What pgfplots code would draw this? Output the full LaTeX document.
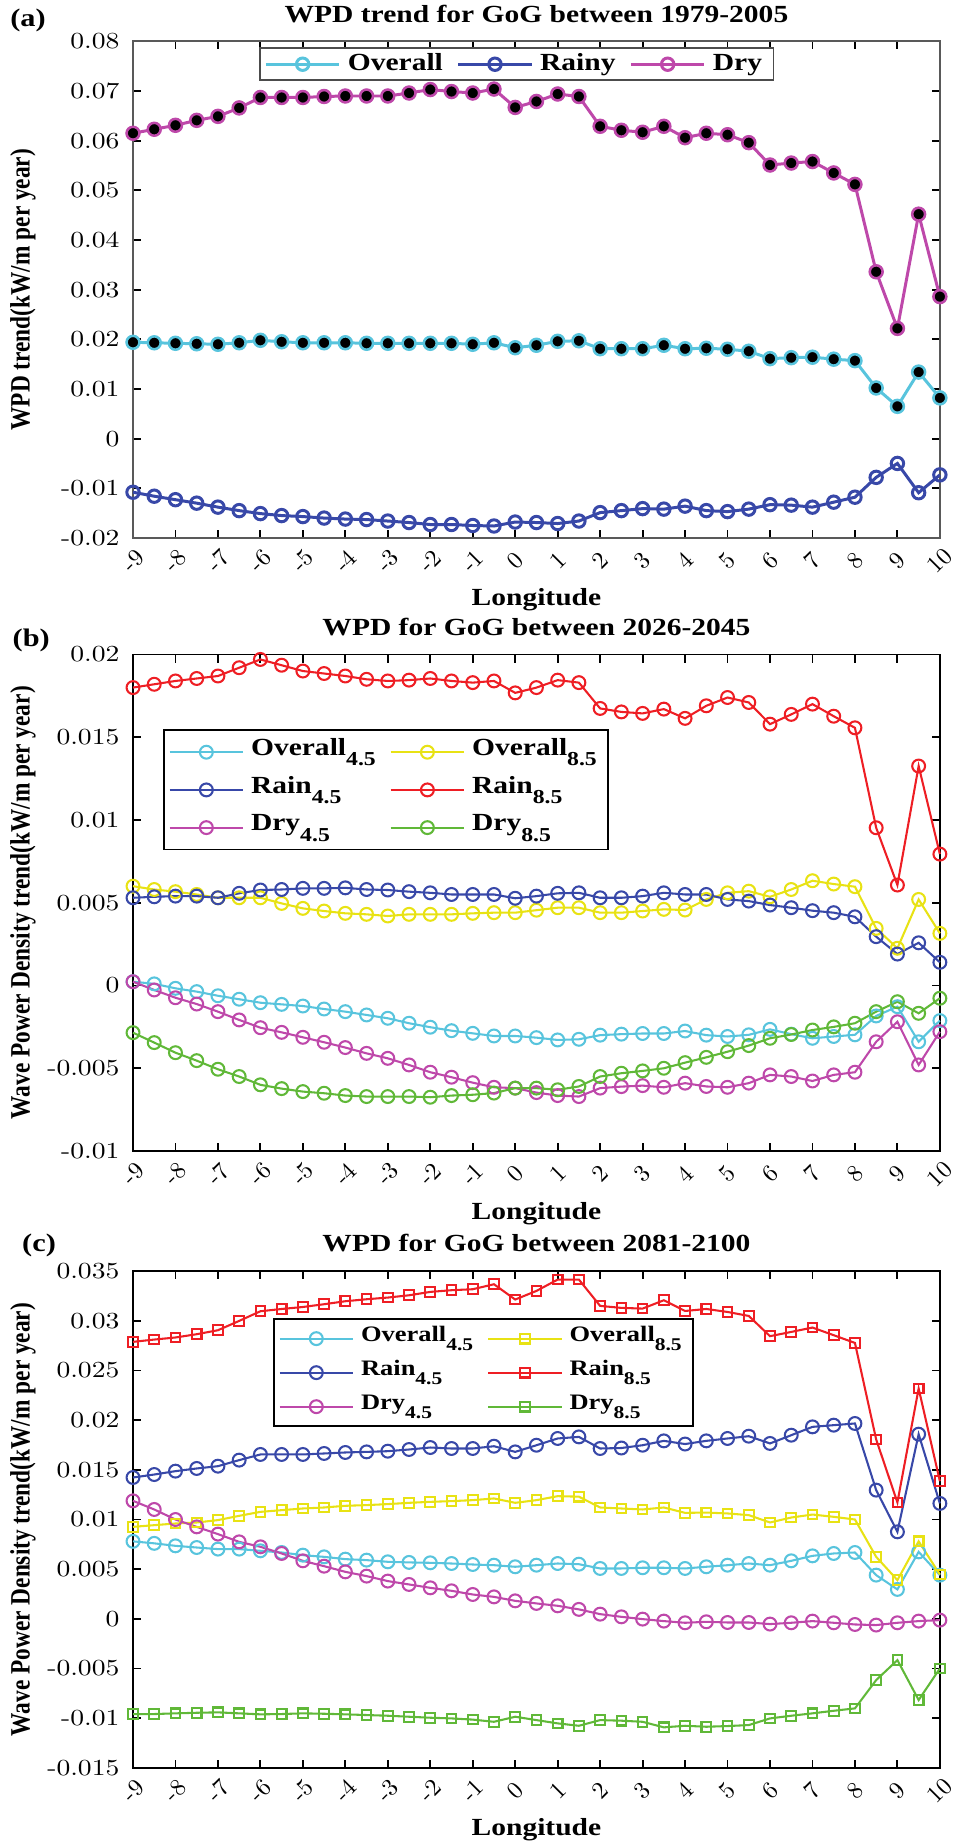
\documentclass[border=0pt]{standalone}
\usepackage{fontspec}
\setmainfont{Liberation Serif}[FakeStretch=1.2]
\newfontfamily\ylabfont{Liberation Serif}
\newfontfamily\lmtick{lmroman10-regular.otf}[FakeStretch=1.2]
\newfontfamily\lmx{lmroman10-regular.otf}
\usepackage{graphicx}
\usepackage{pgfplots}
\usepackage{pgfplotstable}
\pgfplotsset{compat=1.18}

\definecolor{cOv}{RGB}{88,196,221}
\definecolor{cRa}{RGB}{56,72,168}
\definecolor{cDr}{RGB}{190,72,170}
\definecolor{cOv8}{RGB}{232,226,20}
\definecolor{cRa8}{RGB}{238,30,36}
\definecolor{cDr8}{RGB}{96,184,56}

\newcommand{\sub}[1]{\raisebox{-4.5pt}{\fontsize{8.6}{9}\selectfont #1}}
\newcommand{\subc}[1]{\raisebox{-4.2pt}{\fontsize{7.8}{8}\selectfont #1}}
\newcommand{\ylab}[1]{\scalebox{1}[1.2]{\fontsize{10.15}{12}\ylabfont\bfseries #1}}

\pgfplotstableread{
x ov ra dr
-9 0.0194 -0.0108 0.0615
-8.5 0.0193 -0.0116 0.0623
-8 0.0192 -0.0123 0.0631
-7.5 0.0191 -0.0130 0.0641
-7 0.0190 -0.0138 0.0649
-6.5 0.0193 -0.0145 0.0666
-6 0.0198 -0.0151 0.0687
-5.5 0.0195 -0.0155 0.0687
-5 0.0193 -0.0157 0.0687
-4.5 0.0193 -0.0160 0.0689
-4 0.0193 -0.0162 0.0690
-3.5 0.0192 -0.0163 0.0690
-3 0.0192 -0.0166 0.0690
-2.5 0.0192 -0.0169 0.0696
-2 0.0192 -0.0173 0.0703
-1.5 0.0192 -0.0173 0.0699
-1 0.0190 -0.0175 0.0696
-0.5 0.0193 -0.0176 0.0704
0 0.0183 -0.0168 0.0667
0.5 0.0188 -0.0169 0.0679
1 0.0196 -0.0171 0.0694
1.5 0.0197 -0.0166 0.0689
2 0.0181 -0.0149 0.0629
2.5 0.0181 -0.0145 0.0621
3 0.0181 -0.0141 0.0617
3.5 0.0188 -0.0142 0.0629
4 0.0181 -0.0136 0.0606
4.5 0.0182 -0.0145 0.0615
5 0.0180 -0.0147 0.0612
5.5 0.0176 -0.0142 0.0596
6 0.0161 -0.0133 0.0551
6.5 0.0163 -0.0134 0.0555
7 0.0164 -0.0138 0.0558
7.5 0.0160 -0.0128 0.0535
8 0.0157 -0.0118 0.0512
8.5 0.0102 -0.0078 0.0336
9 0.0065 -0.0050 0.0222
9.5 0.0134 -0.0109 0.0452
10 0.0082 -0.0073 0.0286
}\tabA

\pgfplotstableread{
x o4 o8 r4 r8 d4 d8
-9 0.00023 0.0060 0.0053 0.0180 0.00023 -0.00285
-8.5 0.0001 0.0058 0.00536 0.0182 -0.00027 -0.00345
-8 -0.00017 0.00567 0.0054 0.0184 -0.00074 -0.00406
-7.5 -0.00037 0.0055 0.0054 0.01855 -0.00112 -0.00454
-7 -0.00062 0.0053 0.0053 0.0187 -0.00158 -0.00506
-6.5 -0.00083 0.0053 0.00557 0.0192 -0.00208 -0.0055
-6 -0.00104 0.0053 0.00577 0.0197 -0.00255 -0.0060
-5.5 -0.00114 0.00496 0.0058 0.01935 -0.00283 -0.00623
-5 -0.00124 0.00466 0.00587 0.0190 -0.00313 -0.00641
-4.5 -0.00142 0.0045 0.00587 0.01885 -0.00343 -0.00651
-4 -0.00158 0.00436 0.0059 0.0187 -0.00375 -0.00665
-3.5 -0.00178 0.0043 0.0058 0.0185 -0.0041 -0.00671
-3 -0.00198 0.0042 0.00577 0.0184 -0.0044 -0.00671
-2.5 -0.00228 0.0043 0.00567 0.01845 -0.0048 -0.00671
-2 -0.00252 0.0043 0.0056 0.01855 -0.00524 -0.00675
-1.5 -0.00273 0.0043 0.0055 0.0184 -0.00554 -0.00665
-1 -0.00289 0.00436 0.0055 0.0183 -0.00587 -0.0066
-0.5 -0.00305 0.0044 0.0055 0.0184 -0.00615 -0.0065
0 -0.00305 0.0044 0.00527 0.01768 -0.0062 -0.0062
0.5 -0.00315 0.00455 0.0054 0.0180 -0.00647 -0.0062
1 -0.00329 0.0047 0.00557 0.01845 -0.00665 -0.0063
1.5 -0.00325 0.0047 0.0056 0.0183 -0.00671 -0.0061
2 -0.0030 0.0044 0.0053 0.01674 -0.0062 -0.0055
2.5 -0.00294 0.0044 0.0053 0.01653 -0.00611 -0.0053
3 -0.0029 0.0045 0.0054 0.01644 -0.00605 -0.00516
3.5 -0.0029 0.0046 0.0056 0.0167 -0.00615 -0.0050
4 -0.00275 0.00456 0.0055 0.01614 -0.0059 -0.00466
4.5 -0.0030 0.0052 0.0055 0.0169 -0.0061 -0.00434
5 -0.00308 0.0056 0.0052 0.0174 -0.00615 -0.0040
5.5 -0.00298 0.0057 0.0051 0.0171 -0.0059 -0.00363
6 -0.00265 0.00536 0.00486 0.01579 -0.0054 -0.00319
6.5 -0.00294 0.0058 0.0047 0.01638 -0.0055 -0.00296
7 -0.00319 0.00633 0.00452 0.0170 -0.00577 -0.00269
7.5 -0.00308 0.00613 0.0044 0.01627 -0.0054 -0.0025
8 -0.00298 0.00597 0.00415 0.01557 -0.00524 -0.00228
8.5 -0.00184 0.00345 0.00295 0.00953 -0.0034 -0.00158
9 -0.00128 0.00225 0.0019 0.00607 -0.00219 -0.00098
9.5 -0.0034 0.0052 0.00258 0.01326 -0.0048 -0.00168
10 -0.00212 0.00315 0.0014 0.00794 -0.00279 -0.00077
}\tabB

\pgfplotstableread{
x o4 o8 r4 r8 d4 d8
-9 0.0078 0.00926 0.01423 0.02789 0.01188 -0.00959
-8.5 0.0076 0.00943 0.01453 0.02812 0.01101 -0.00959
-8 0.00735 0.0096 0.01487 0.02833 0.0100 -0.00952
-7.5 0.00718 0.0097 0.01514 0.02866 0.00926 -0.00946
-7 0.00702 0.00994 0.01537 0.02906 0.00853 -0.00942
-6.5 0.00702 0.01037 0.01598 0.0300 0.00775 -0.00952
-6 0.00685 0.01077 0.01655 0.03097 0.00725 -0.00962
-5.5 0.00668 0.01094 0.01655 0.0312 0.00658 -0.00959
-5 0.00641 0.01111 0.01655 0.0314 0.00584 -0.00952
-4.5 0.00624 0.01121 0.01665 0.03168 0.0053 -0.00956
-4 0.00601 0.01138 0.01675 0.03198 0.00473 -0.00962
-3.5 0.00591 0.01145 0.01681 0.03218 0.0043 -0.00969
-3 0.00574 0.01155 0.01688 0.03235 0.0038 -0.00976
-2.5 0.00568 0.01168 0.01705 0.03258 0.00346 -0.00986
-2 0.00564 0.01178 0.01725 0.03292 0.00312 -0.00996
-1.5 0.00557 0.01185 0.01715 0.03309 0.00282 -0.01003
-1 0.00547 0.01195 0.01715 0.03319 0.00245 -0.01015
-0.5 0.0054 0.01212 0.01738 0.03369 0.00221 -0.01037
0 0.00524 0.01168 0.01681 0.03215 0.00181 -0.00986
0.5 0.0054 0.01195 0.01748 0.03302 0.00155 -0.0102
1 0.00557 0.01235 0.01816 0.03416 0.00131 -0.01053
1.5 0.0055 0.0123 0.01832 0.03416 0.00095 -0.01077
2 0.00507 0.01121 0.01715 0.03151 0.00047 -0.0102
2.5 0.00507 0.01111 0.0172 0.03131 0.0002 -0.01026
3 0.00514 0.01101 0.01748 0.03124 -0.00003 -0.01037
3.5 0.00514 0.01121 0.01792 0.03208 -0.00023 -0.01093
4 0.00507 0.01067 0.0176 0.0310 -0.0004 -0.01077
4.5 0.00524 0.0107 0.01792 0.0312 -0.0003 -0.01087
5 0.0054 0.01061 0.01816 0.0309 -0.00037 -0.0108
5.5 0.00557 0.01044 0.01839 0.0305 -0.00037 -0.0107
6 0.0054 0.0097 0.01766 0.02846 -0.00053 -0.01003
6.5 0.00584 0.0102 0.01849 0.02889 -0.0004 -0.00976
7 0.00634 0.0105 0.01933 0.02933 -0.00023 -0.00952
7.5 0.00658 0.01027 0.0195 0.02856 -0.0004 -0.00926
8 0.00668 0.0100 0.01967 0.02778 -0.00057 -0.00902
8.5 0.0044 0.00624 0.01296 0.01806 -0.00063 -0.00617
9 0.00296 0.0039 0.00876 0.01172 -0.0004 -0.00416
9.5 0.00674 0.0078 0.01859 0.02319 -0.00023 -0.00818
10 0.0044 0.00447 0.01162 0.01386 -0.00013 -0.0050
}\tabC

\pgfplotsset{
  panel/.style={
    scale only axis, width=351pt, height=216pt,
    anchor=south west, clip=false,
    xmin=-9, xmax=10, xtick={-9,-8,...,10},
    tick align=inside, major tick length=3.5pt,
    axis line style={line width=0.8pt},
    every tick/.style={line width=0.8pt},
    scaled y ticks=false,
    /pgf/number format/assume math mode=true,
    yticklabel style={font=\fontsize{10}{12}\lmtick, /pgf/number format/fixed, /pgf/number format/precision=3, xshift=-2.4pt},
    xticklabel style={font=\fontsize{10.5}{12}\lmx, inner sep=0pt, yshift=-10pt, rotate=45, anchor=center},
    title style={at={(0.5,1)}, anchor=base, yshift=2.4pt, font=\fontsize{10.7}{12}\selectfont\bfseries},
    xlabel style={at={(axis description cs:0.5,0)}, anchor=base, yshift=-29.6pt, font=\fontsize{10.7}{12}\selectfont\bfseries},
    ylabel style={at={(axis description cs:-0.1364,0.5)}, anchor=center},
    xlabel={Longitude},
    legend cell align=left,
    legend image code/.code={\draw[mark repeat=2,mark phase=2] plot coordinates {(0pt,0pt) (16pt,0pt) (32pt,0pt)};},
    legend style={draw=black, line width=0.8pt, fill=white, font=\fontsize{10.7}{12}\selectfont\bfseries, anchor=north west, /tikz/every even column/.append style={column sep=3pt}},
  },
  sA/.style={line width=1.3pt, mark=o, mark size=2.7pt},
  sC/.style={line width=0.9pt, mark=o, mark size=2.8pt},
  sS/.style={line width=0.9pt, mark=square, mark size=2.1pt},
}

\begin{document}
\begin{tikzpicture}
\useasboundingbox (0,0) rectangle (415.4pt,-801.3pt);

% ---------- (a)
\begin{axis}[panel, at={(57.86pt,-234.0pt)},
  axis line style={black!65},
  ymin=-0.02, ymax=0.08,
  ytick={-0.02,-0.01,0,0.01,0.02,0.03,0.04,0.05,0.06,0.07,0.08},
  title={WPD trend for GoG between 1979-2005},
  ylabel={\ylab{WPD trend(kW/m per year)}},
  legend columns=3,
  legend style={at={(0.156,0.988)}, draw=black!70, inner ysep=0.5pt, inner xsep=2pt,
    nodes={inner xsep=3pt, inner ysep=1.5pt, text height=7.5pt, text depth=2.4pt}},
]
\addplot[sA, color=cOv] table[x=x,y=ov]{\tabA};
\addlegendentry{Overall}
\addplot[sA, color=cRa] table[x=x,y=ra]{\tabA};
\addlegendentry{Rainy}
\addplot[sA, color=cDr] table[x=x,y=dr]{\tabA};
\addlegendentry{Dry}
\addplot[only marks, forget plot, mark=*, mark size=2.7pt, mark options={fill=black, draw=cOv, line width=0.9pt}] table[x=x,y=ov]{\tabA};
\addplot[only marks, forget plot, mark=*, mark size=2.7pt, mark options={fill=black, draw=cDr, line width=0.9pt}] table[x=x,y=dr]{\tabA};
\end{axis}

% ---------- (b)
\begin{axis}[panel, at={(57.86pt,-500.7pt)},
  ymin=-0.01, ymax=0.02,
  ytick={-0.01,-0.005,0,0.005,0.01,0.015,0.02},
  title={WPD for GoG between 2026-2045},
  ylabel={\ylab{Wave Power Density trend(kW/m per year)}},
  legend columns=2,
  legend style={at={(0.0372,0.849)}, inner ysep=1.3pt, inner xsep=2pt,
    nodes={inner xsep=3pt, inner ysep=2.05pt, text height=7.5pt, text depth=4.8pt}},
]
\addplot[sC, color=cOv] table[x=x,y=o4]{\tabB};
\addlegendentry{Overall\sub{4.5}}
\addplot[sC, color=cOv8] table[x=x,y=o8]{\tabB};
\addlegendentry{Overall\sub{8.5}}
\addplot[sC, color=cRa] table[x=x,y=r4]{\tabB};
\addlegendentry{Rain\sub{4.5}}
\addplot[sC, color=cRa8] table[x=x,y=r8]{\tabB};
\addlegendentry{Rain\sub{8.5}}
\addplot[sC, color=cDr] table[x=x,y=d4]{\tabB};
\addlegendentry{Dry\sub{4.5}}
\addplot[sC, color=cDr8] table[x=x,y=d8]{\tabB};
\addlegendentry{Dry\sub{8.5}}
\end{axis}

% ---------- (c)
\begin{axis}[panel, at={(57.86pt,-769.0pt)},
  ymin=-0.015, ymax=0.035,
  ytick={-0.015,-0.01,-0.005,0,0.005,0.01,0.015,0.02,0.025,0.03,0.035},
  title={WPD for GoG between 2081-2100},
  ylabel={\ylab{Wave Power Density trend(kW/m per year)}},
  legend columns=2,
  legend style={at={(0.1735,0.905)}, inner ysep=1pt, inner xsep=2pt,
    font=\fontsize{9.6}{11}\selectfont\bfseries,
    nodes={inner xsep=3pt, inner ysep=1.75pt, text height=6.8pt, text depth=4.5pt}},
]
\addplot[sC, color=cOv] table[x=x,y=o4]{\tabC};
\addlegendentry{Overall\subc{4.5}}
\addplot[sS, color=cOv8] table[x=x,y=o8]{\tabC};
\addlegendentry{Overall\subc{8.5}}
\addplot[sC, color=cRa] table[x=x,y=r4]{\tabC};
\addlegendentry{Rain\subc{4.5}}
\addplot[sS, color=cRa8] table[x=x,y=r8]{\tabC};
\addlegendentry{Rain\subc{8.5}}
\addplot[sC, color=cDr] table[x=x,y=d4]{\tabC};
\addlegendentry{Dry\subc{4.5}}
\addplot[sS, color=cDr8] table[x=x,y=d8]{\tabC};
\addlegendentry{Dry\subc{8.5}}
\end{axis}

\node[anchor=base, font=\fontsize{11}{12}\selectfont\bfseries] at (12.2pt,-11.7pt) {(a)};
\node[anchor=base, font=\fontsize{11}{12}\selectfont\bfseries] at (13.6pt,-281.4pt) {(b)};
\node[anchor=base, font=\fontsize{11}{12}\selectfont\bfseries] at (17pt,-544.6pt) {(c)};
\end{tikzpicture}
\end{document}
